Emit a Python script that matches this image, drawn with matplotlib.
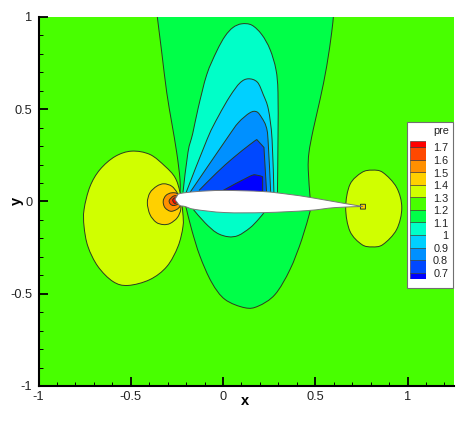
from matplotlib import pyplot as plt
from matplotlib.patches import PathPatch, Rectangle
from matplotlib.path import Path
from matplotlib.ticker import MultipleLocator

plt.rcParams['font.family'] = ['Liberation Sans', 'DejaVu Sans']
plt.rcParams['axes.unicode_minus'] = False

# contour outlines, x and y in chart units
x_12 = [-0.356, -0.332, -0.305, -0.278, -0.251, -0.233, -0.233, -0.201, -0.170, -0.125, -0.061, 0.011, 0.119, 0.191,
        0.282, 0.363, 0.427, 0.472, 0.472, 0.462, 0.466, 0.489, 0.526, 0.562, 0.589, 0.598]
y_12 = [1.0, 0.808, 0.591, 0.428, 0.266, 0.119, 0.029, -0.029, -0.152, -0.296, -0.439, -0.531, -0.576, -0.567,
        -0.504, -0.369, -0.206, -0.053, 0.022, 0.173, 0.266, 0.390, 0.553, 0.733, 0.916, 1.0]

x_11_up = [-0.217, -0.190, -0.164, -0.134, -0.088, -0.034, 0.011, 0.054, 0.101, 0.156, 0.210, 0.255, 0.287, 0.298,
           0.298, 0.295]
y_11_up = [0.049, 0.266, 0.369, 0.509, 0.688, 0.815, 0.896, 0.943, 0.963, 0.956, 0.905, 0.824, 0.715, 0.591,
           0.336, 0.038]
x_11_low = [-0.161, -0.098, -0.034, 0.029, 0.083, 0.146, 0.191, 0.224]
y_11_low = [-0.043, -0.115, -0.170, -0.191, -0.184, -0.143, -0.098, -0.058]

x_10 = [-0.201, -0.085, -0.025, 0.038, 0.092, 0.137, 0.186, 0.218, 0.246, 0.266, 0.276]
y_10 = [0.046, 0.340, 0.462, 0.571, 0.643, 0.665, 0.647, 0.580, 0.499, 0.336, 0.038]

x_09 = [-0.179, 0.020, 0.083, 0.146, 0.183, 0.210, 0.233, 0.244, 0.259]
y_09 = [0.049, 0.340, 0.427, 0.481, 0.486, 0.454, 0.408, 0.336, 0.038]

x_08 = [-0.130, -0.034, 0.056, 0.146, 0.183, 0.222, 0.237]
y_08 = [0.060, 0.156, 0.237, 0.309, 0.336, 0.293, 0.038]

x_07 = [0.002, 0.146, 0.183, 0.215, 0.215]
y_07 = [0.061, 0.137, 0.143, 0.134, 0.049]

x_13_left = [-0.495, -0.396, -0.314, -0.260, -0.233, -0.218, -0.217, -0.244, -0.304, -0.396, -0.515, -0.596, -0.678,
             -0.732, -0.753, -0.753, -0.721, -0.667, -0.585, -0.495]
y_13_left = [0.273, 0.255, 0.191, 0.130, 0.049, -0.060, -0.136, -0.244, -0.352, -0.423, -0.455, -0.434, -0.352,
             -0.244, -0.136, -0.043, 0.081, 0.173, 0.244, 0.273]

x_14 = [-0.410, -0.396, -0.359, -0.320, -0.278, -0.248, -0.233, -0.229, -0.248, -0.287, -0.324, -0.363, -0.396, -0.410]
y_14 = [-0.007, 0.047, 0.083, 0.096, 0.083, 0.047, 0.011, -0.043, -0.088, -0.119, -0.125, -0.112, -0.070, -0.007]

x_15 = [-0.324, -0.309, -0.278, -0.244, -0.233, -0.278, -0.314, -0.324]
y_15 = [0.002, 0.033, 0.047, 0.038, -0.025, -0.053, -0.034, 0.002]

x_16 = [-0.291, -0.269, -0.249, -0.244, -0.269, -0.287, -0.291]
y_16 = [0.007, 0.029, 0.027, -0.011, -0.022, -0.012, 0.007]

x_17 = [-0.273, -0.260, -0.244, -0.260, -0.273]
y_17 = [0.007, 0.020, 0.007, -0.011, 0.007]

x_13_right = [0.809, 0.867, 0.941, 0.969, 0.941, 0.867, 0.809, 0.752, 0.688, 0.665, 0.688, 0.752, 0.809]
y_13_right = [0.170, 0.157, 0.076, -0.034, -0.152, -0.233, -0.246, -0.233, -0.161, -0.034, 0.092, 0.157, 0.170]

x_te = [0.745, 0.772, 0.772, 0.745, 0.745]
y_te = [-0.015, -0.015, -0.041, -0.041, -0.015]

x_foil = [-0.260, -0.249, -0.233, -0.141, 0.0, 0.217, 0.363, 0.472, 0.661, 0.759, 0.607, 0.461, 0.228, 0.011,
          -0.152, -0.206, -0.233, -0.249, -0.260]
y_foil = [0.011, 0.030, 0.043, 0.054, 0.060, 0.054, 0.038, 0.022, -0.011, -0.027, -0.033, -0.049, -0.060, -0.060,
          -0.043, -0.027, -0.022, -0.005, 0.011]

# legend
niveles = [0.7, 0.8, 0.9, 1, 1.1, 1.2, 1.3, 1.4, 1.5, 1.6, 1.7]
etiquetas = ['0.7', '0.8', '0.9', '1', '1.1', '1.2', '1.3', '1.4', '1.5', '1.6', '1.7']
colores = ['#0000ff', '#0048ff', '#0090ff', '#00d0ff', '#00ffc8', '#00ff48',
           '#48ff00', '#d0ff00', '#ffd000', '#ff9000', '#ff4800', '#ff0000']

# outline, colour, vertices where the line has a real corner
regiones = [
    (x_12, y_12, colores[5], [6, 7, 17, 18]),
    (x_11_up, y_11_up, colores[4], []),
    (x_11_low, y_11_low, colores[4], []),
    (x_10, y_10, colores[3], []),
    (x_09, y_09, colores[2], []),
    (x_08, y_08, colores[1], [4, 5]),
    (x_07, y_07, colores[0], [3]),
    (x_13_left, y_13_left, colores[7], []),
    (x_14, y_14, colores[8], []),
    (x_15, y_15, colores[9], []),
    (x_16, y_16, colores[10], []),
    (x_17, y_17, colores[11], []),
    (x_13_right, y_13_right, colores[7], []),
    (x_te, y_te, colores[8], [1, 2, 3]),
]


def curva(xs, ys, esquinas):
    # bezier path through the vertices, straight tangents cut at the corners
    n = len(xs)
    cerrada = xs[0] == xs[-1] and ys[0] == ys[-1] and not esquinas
    verts = [(xs[0], ys[0])]
    codes = [Path.MOVETO]
    for i in range(n - 1):
        a = i - 1 if i > 0 else (n - 2 if cerrada else 0)
        b = i + 2 if i + 2 < n else (1 if cerrada else n - 1)
        if i in esquinas:
            a = i
        if i + 1 in esquinas:
            b = i + 1
        verts.append((xs[i] + (xs[i + 1] - xs[a]) / 6, ys[i] + (ys[i + 1] - ys[a]) / 6))
        verts.append((xs[i + 1] - (xs[b] - xs[i]) / 6, ys[i + 1] - (ys[b] - ys[i]) / 6))
        verts.append((xs[i + 1], ys[i + 1]))
        codes += [Path.CURVE4] * 3
    return Path(verts, codes)


W, H = 473, 421
fig = plt.figure(figsize=(W / 100, H / 100), dpi=100)
ax = fig.add_axes([38.5 / W, 1 - 386 / H, (454 - 38.5) / W, (386 - 17) / H])
ax.set_facecolor(colores[6])
ax.set_xlim(-1, 1.252)
ax.set_ylim(-1, 1)

for xs, ys, color, esquinas in regiones:
    p = curva(xs, ys, esquinas)
    ax.add_patch(PathPatch(p, facecolor=color, edgecolor='none', lw=0, zorder=2))
    ax.add_patch(PathPatch(p, facecolor='none', edgecolor='#2c3c20', lw=0.7, zorder=2))

ax.add_patch(PathPatch(curva(x_foil, y_foil, [9]), facecolor='white', edgecolor='#777777', lw=0.7, zorder=3))

for lado in ['top', 'right']:
    ax.spines[lado].set_visible(False)
for lado in ['left', 'bottom']:
    ax.spines[lado].set_linewidth(1.5)
    ax.spines[lado].set_zorder(5)

ax.set_xticks([-1, -0.5, 0, 0.5, 1])
ax.set_xticklabels(['-1', '-0.5', '0', '0.5', '1'])
ax.set_yticks([-1, -0.5, 0, 0.5, 1])
ax.set_yticklabels(['-1', '-0.5', '0', '0.5', '1'])
ax.xaxis.set_minor_locator(MultipleLocator(0.1))
ax.yaxis.set_minor_locator(MultipleLocator(0.1))
ax.tick_params(which='major', direction='in', length=6.5, width=1.3, labelsize=9.2, labelcolor='#222222', zorder=5)
ax.tick_params(which='minor', direction='in', length=3.2, width=0.7, zorder=5)
ax.tick_params(axis='x', which='major', pad=3.5)
ax.tick_params(axis='y', which='major', pad=4.5)

fig.text(245 / W, 1 - 401 / H, 'x', fontsize=10.5, fontweight='bold', ha='center', va='center')
fig.text(17 / W, 1 - 201 / H, 'y', fontsize=10.5, fontweight='bold', rotation=90, ha='center', va='center')

# caja de la leyenda
caja = Rectangle((406.5 / W, 1 - 288 / H), 46 / W, 166 / H, transform=fig.transFigure,
                 facecolor='white', edgecolor='#707070', lw=0.8, zorder=6)
fig.add_artist(caja)
fig.text(441 / W, 1 - 130.5 / H, 'pre', fontsize=7.8, ha='center', va='center', color='#222222', zorder=7)

cb = fig.add_axes([410 / W, 1 - 279.3 / H, 16 / W, 138.6 / H], zorder=8)
bordes = [0.647] + niveles + [1.751]
for i in range(len(colores)):
    cb.bar(0, bordes[i + 1] - bordes[i], bottom=bordes[i], width=1, color=colores[i], edgecolor='#333333', lw=0.4)
cb.set_xlim(-0.5, 0.5)
cb.set_ylim(0.647, 1.751)
cb.axis('off')
for nivel, texto in zip(niveles, etiquetas):
    cb.annotate(texto, xy=(1, nivel), xycoords=('axes fraction', 'data'), xytext=(16, -1), textcoords='offset points',
                fontsize=7.8, ha='right', va='center', color='#222222', annotation_clip=False)

plt.savefig('out.png', dpi=100)
